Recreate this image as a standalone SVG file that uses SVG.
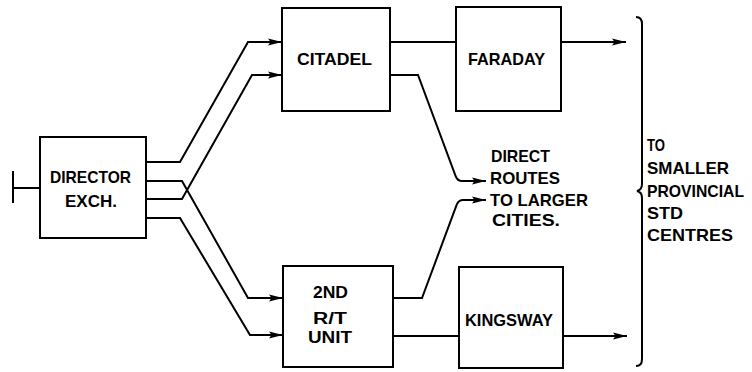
<svg xmlns="http://www.w3.org/2000/svg" width="752" height="372" viewBox="0 0 752 372">
<style>
.box{fill:#fff;stroke:#000;stroke-width:2}
.ln{fill:none;stroke:#000;stroke-width:2}
.t{font-family:"Liberation Sans",Arial,sans-serif;font-weight:bold;font-size:17px;fill:#000}
.s{font-size:16px}
</style>
<defs>
<marker id="ah" viewBox="0 0 14 8" refX="14" refY="4" markerWidth="14" markerHeight="8" markerUnits="userSpaceOnUse" orient="auto">
<path d="M0,0.5 L14,4 L0,7.5 L2.5,4 z" fill="#000"/>
</marker>
</defs>
<rect width="752" height="372" fill="#fff"/>
<g id="connectors">
<path class="ln" d="M13,171 V203 M13,188 H40"/>
<path class="ln" d="M146,162 H180 L248,42 H282" marker-end="url(#ah)"/>
<path class="ln" d="M146,181 H182 L248,298 H283" marker-end="url(#ah)"/>
<path class="ln" d="M146,199 H182 L252,75 H282" marker-end="url(#ah)"/>
<path class="ln" d="M146,218 H180 L250,335 H283" marker-end="url(#ah)"/>
<path class="ln" d="M390,42 H456"/>
<path class="ln" d="M561,42 H626" marker-end="url(#ah)"/>
<path class="ln" d="M390,75 H418 L456,177 Q458,181 462,181 H486" marker-end="url(#ah)"/>
<path class="ln" d="M393,298 H422 L457,204 Q459,200 463,200 H486" marker-end="url(#ah)"/>
<path class="ln" d="M393,336 H459"/>
<path class="ln" d="M563,336 H627" marker-end="url(#ah)"/>
<path class="ln" d="M636,17 Q642,17 642,24 V184 Q642,190 637,191 Q642,192 642,198 V359 Q642,366 636,366"/>
</g>
<g id="director">
<rect class="box" x="40" y="137" width="106" height="101"/>
<text class="t" x="50" y="183" textLength="81" lengthAdjust="spacingAndGlyphs">DIRECTOR</text>
<text class="t" x="65" y="207" textLength="52" lengthAdjust="spacingAndGlyphs">EXCH.</text>
</g>
<g id="citadel">
<rect class="box" x="282" y="8" width="108" height="103"/>
<text class="t" x="297" y="65" textLength="75" lengthAdjust="spacingAndGlyphs">CITADEL</text>
</g>
<g id="faraday">
<rect class="box" x="456" y="7" width="105" height="104"/>
<text class="t" x="468" y="65" textLength="77" lengthAdjust="spacingAndGlyphs">FARADAY</text>
</g>
<g id="rt-unit">
<rect class="box" x="283" y="266" width="110" height="101"/>
<text class="t" x="313" y="298" textLength="35" lengthAdjust="spacingAndGlyphs">2ND</text>
<text class="t s" x="313" y="324" textLength="34" lengthAdjust="spacingAndGlyphs">R/T</text>
<text class="t s" x="308" y="343" textLength="44" lengthAdjust="spacingAndGlyphs">UNIT</text>
</g>
<g id="kingsway">
<rect class="box" x="459" y="267" width="104" height="101"/>
<text class="t" x="465" y="326" textLength="88" lengthAdjust="spacingAndGlyphs">KINGSWAY</text>
</g>
<g id="direct-routes">
<text class="t" x="491" y="162" textLength="59" lengthAdjust="spacingAndGlyphs">DIRECT</text>
<text class="t" x="490" y="184" textLength="70" lengthAdjust="spacingAndGlyphs">ROUTES</text>
<text class="t" x="490" y="206" textLength="98" lengthAdjust="spacingAndGlyphs">TO LARGER</text>
<text class="t" x="492" y="226" textLength="68" lengthAdjust="spacingAndGlyphs">CITIES.</text>
</g>
<g id="smaller-centres">
<text class="t" x="647" y="151" textLength="18" lengthAdjust="spacingAndGlyphs">TO</text>
<text class="t" x="647" y="174" textLength="82" lengthAdjust="spacingAndGlyphs">SMALLER</text>
<text class="t" x="647" y="197" textLength="97" lengthAdjust="spacingAndGlyphs">PROVINCIAL</text>
<text class="t" x="647" y="219" textLength="36" lengthAdjust="spacingAndGlyphs">STD</text>
<text class="t" x="647" y="241" textLength="86" lengthAdjust="spacingAndGlyphs">CENTRES</text>
</g>
</svg>
